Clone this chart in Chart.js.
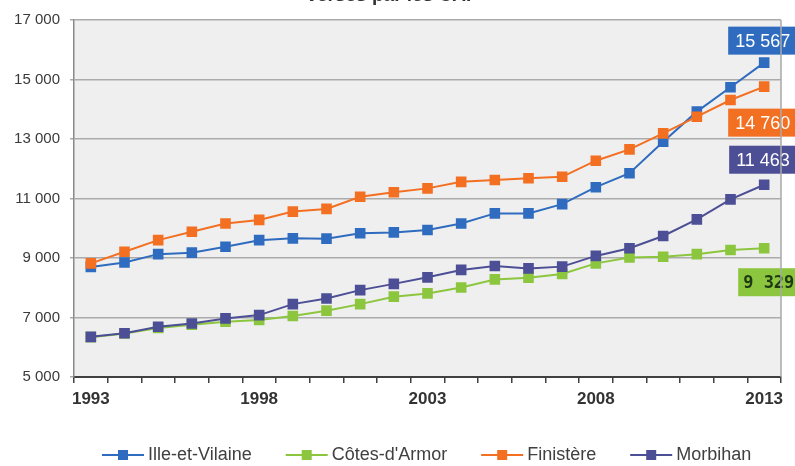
<!DOCTYPE html>
<html lang="fr">
<head>
<meta charset="utf-8">
<title>Prestations versées par les CAF</title>
<script src="https://cdn.jsdelivr.net/npm/chart.js@4.4.1/dist/chart.umd.min.js"></script>
<style>
    html, body { margin: 0; padding: 0; background: #ffffff; }
    #wrap { width: 795px; height: 466px; position: relative; }
</style>
</head>
<body>
<div id="wrap"><canvas id="cafChart" width="795" height="466"></canvas></div>
<script>
// --- Données ---
const annees = [];
for (let a = 1993; a <= 2013; a++) annees.push(String(a));

const illeEtVilaine = [8700, 8850, 9130, 9180, 9380, 9600, 9660, 9650, 9830, 9860,
    9940, 10160, 10500, 10500, 10810, 11380, 11850, 12910, 13920, 14740, 15567];
const cotesDArmor = [6340, 6460, 6650, 6760, 6860, 6920, 7050, 7230, 7450, 7700,
    7810, 8010, 8280, 8340, 8460, 8820, 9020, 9040, 9130, 9270, 9329];
const finistere = [8820, 9210, 9600, 9880, 10160, 10280, 10560, 10650, 11060, 11210,
    11340, 11560, 11620, 11680, 11730, 12270, 12650, 13190, 13750, 14310, 14760];
const morbihan = [6350, 6470, 6690, 6800, 6970, 7080, 7450, 7640, 7920, 8130,
    8350, 8600, 8730, 8650, 8710, 9070, 9330, 9740, 10300, 10970, 11463];

const departements = ['Ille-et-Vilaine', "Côtes-d'Armor", 'Finistère', 'Morbihan'];
const seriesValeurs = [illeEtVilaine, cotesDArmor, finistere, morbihan];
const couleurs = ['#2f6cbf', '#8cc63f', '#f36f21', '#4c4e96'];
const anneesAffichees = ['1993', '1998', '2003', '2008', '2013'];
const graduationsY = [5000, 7000, 9000, 11000, 13000, 15000, 17000];

// --- Format nombre avec espace ---
function formatNombre(v) {
    return String(Math.round(v)).replace(/\B(?=(\d{3})+(?!\d))/g, ' ');
}

// --- Fond gris et cadre de la zone de tracé ---
const fondZone = {
    id: 'fondZone',
    beforeDraw(chart) {
        const { ctx, chartArea: a } = chart;
        ctx.save();
        ctx.fillStyle = '#efefef';
        ctx.fillRect(a.left, a.top, a.right - a.left, a.bottom - a.top);
        ctx.restore();
    },
    afterDraw(chart) {
        const { ctx, chartArea: a } = chart;
        ctx.save();
        ctx.strokeStyle = '#a9a9a9';
        ctx.lineWidth = 1.5;
        ctx.beginPath();
        ctx.moveTo(a.right, a.top);
        ctx.lineTo(a.right, a.bottom);
        ctx.stroke();
        ctx.restore();
    }
};

// --- Titre (coupé en haut) ---
const titreHaut = {
    id: 'titreHaut',
    afterDraw(chart) {
        const ctx = chart.ctx;
        ctx.save();
        ctx.font = 'bold 19px "Liberation Sans", Arial, sans-serif';
        ctx.fillStyle = '#333333';
        ctx.textAlign = 'center';
        ctx.textBaseline = 'alphabetic';
        ctx.fillText('versés par les CAF', 392, 1);
        ctx.restore();
    }
};

// --- Étiquettes de la dernière valeur ---
const decalagesEtiquettes = [
    { dx: -36, dy: -22, tx: 7, texte: '#ffffff', police: '18px "Liberation Sans", Arial, sans-serif' },
    { dx: -26, dy: 34, tx: 5, texte: '#1e3a12', police: 'bold 17px "DejaVu Sans Mono", monospace' },
    { dx: -36, dy: 36, tx: 7, texte: '#ffffff', police: '18px "Liberation Sans", Arial, sans-serif' },
    { dx: -35, dy: -25, tx: 7, texte: '#ffffff', police: '18px "Liberation Sans", Arial, sans-serif' }
];

const etiquettesFin = {
    id: 'etiquettesFin',
    afterDatasetsDraw(chart) {
        const ctx = chart.ctx;
        chart.data.datasets.forEach((ds, i) => {
            const meta = chart.getDatasetMeta(i);
            const dernier = meta.data[meta.data.length - 1];
            const d = decalagesEtiquettes[i];
            const x = dernier.x + d.dx;
            const y = dernier.y + d.dy;
            ctx.save();
            ctx.fillStyle = ds.borderColor;
            ctx.fillRect(x, y - 14, 75, 28);
            ctx.font = d.police;
            ctx.fillStyle = d.texte;
            ctx.textAlign = 'left';
            ctx.textBaseline = 'middle';
            ctx.fillText(formatNombre(ds.data[ds.data.length - 1]), x + d.tx, y + 1);
            ctx.restore();
        });
    }
};

// --- Légende en bas ---
const legendeBas = {
    id: 'legendeBas',
    afterDraw(chart) {
        const ctx = chart.ctx;
        let x = 102;
        const y = 455;
        ctx.save();
        ctx.font = '18px "Liberation Sans", Arial, sans-serif';
        ctx.textBaseline = 'middle';
        chart.data.datasets.forEach((ds) => {
            ctx.strokeStyle = ds.borderColor;
            ctx.lineWidth = 2;
            ctx.beginPath();
            ctx.moveTo(x, y);
            ctx.lineTo(x + 42, y);
            ctx.stroke();
            ctx.fillStyle = ds.borderColor;
            ctx.fillRect(x + 16, y - 5, 10, 10);
            x += 46;
            ctx.fillStyle = '#404040';
            ctx.fillText(ds.label, x, y);
            x += ctx.measureText(ds.label).width + 34;
        });
        ctx.restore();
    }
};

// --- Chart Initialization ---
function initializeChart() {
    const datasets = seriesValeurs.map((valeurs, i) => ({
        label: departements[i],
        data: valeurs,
        borderColor: couleurs[i],
        backgroundColor: couleurs[i],
        borderWidth: 2,
        pointStyle: 'rect',
        pointRadius: 7.5,
        pointBorderWidth: 0,
        tension: 0,
        order: seriesValeurs.length - i
    }));

    new Chart(document.getElementById('cafChart'), {
        type: 'line',
        data: { labels: annees, datasets: datasets },
        options: {
            responsive: false,
            animation: false,
            layout: { padding: { top: 20, right: 14, bottom: 49, left: 0 } },
            plugins: {
                legend: { display: false },
                tooltip: { enabled: false },
                title: { display: false }
            },
            scales: {
                x: {
                    type: 'category',
                    offset: true,
                    afterFit: (scale) => { scale.height = 40; },
                    grid: {
                        offset: true,
                        drawOnChartArea: false,
                        drawTicks: true,
                        tickLength: 6,
                        color: '#404040',
                        lineWidth: 1.5
                    },
                    border: { color: '#404040', width: 2 },
                    ticks: {
                        autoSkip: false,
                        maxRotation: 0,
                        padding: 6,
                        color: '#333333',
                        font: { family: '"Liberation Sans", Arial, sans-serif', size: 17, weight: 'bold' },
                        callback: function (value) {
                            const lab = this.getLabelForValue(value);
                            return anneesAffichees.includes(lab) ? lab : '';
                        }
                    }
                },
                y: {
                    min: graduationsY[0],
                    max: graduationsY[graduationsY.length - 1],
                    afterFit: (scale) => { scale.width = 74; },
                    afterBuildTicks: (scale) => {
                        scale.ticks = graduationsY.map(v => ({ value: v }));
                    },
                    grid: {
                        color: '#ababab',
                        lineWidth: 1.5,
                        tickLength: 4
                    },
                    border: { color: '#8a8a8a', width: 1.5 },
                    ticks: {
                        padding: 10,
                        color: '#3a3a3a',
                        font: { family: '"Liberation Sans", Arial, sans-serif', size: 15 },
                        callback: (v) => formatNombre(v)
                    }
                }
            }
        },
        plugins: [fondZone, titreHaut, etiquettesFin, legendeBas]
    });
}

document.addEventListener('DOMContentLoaded', initializeChart);
</script>
</body>
</html>
